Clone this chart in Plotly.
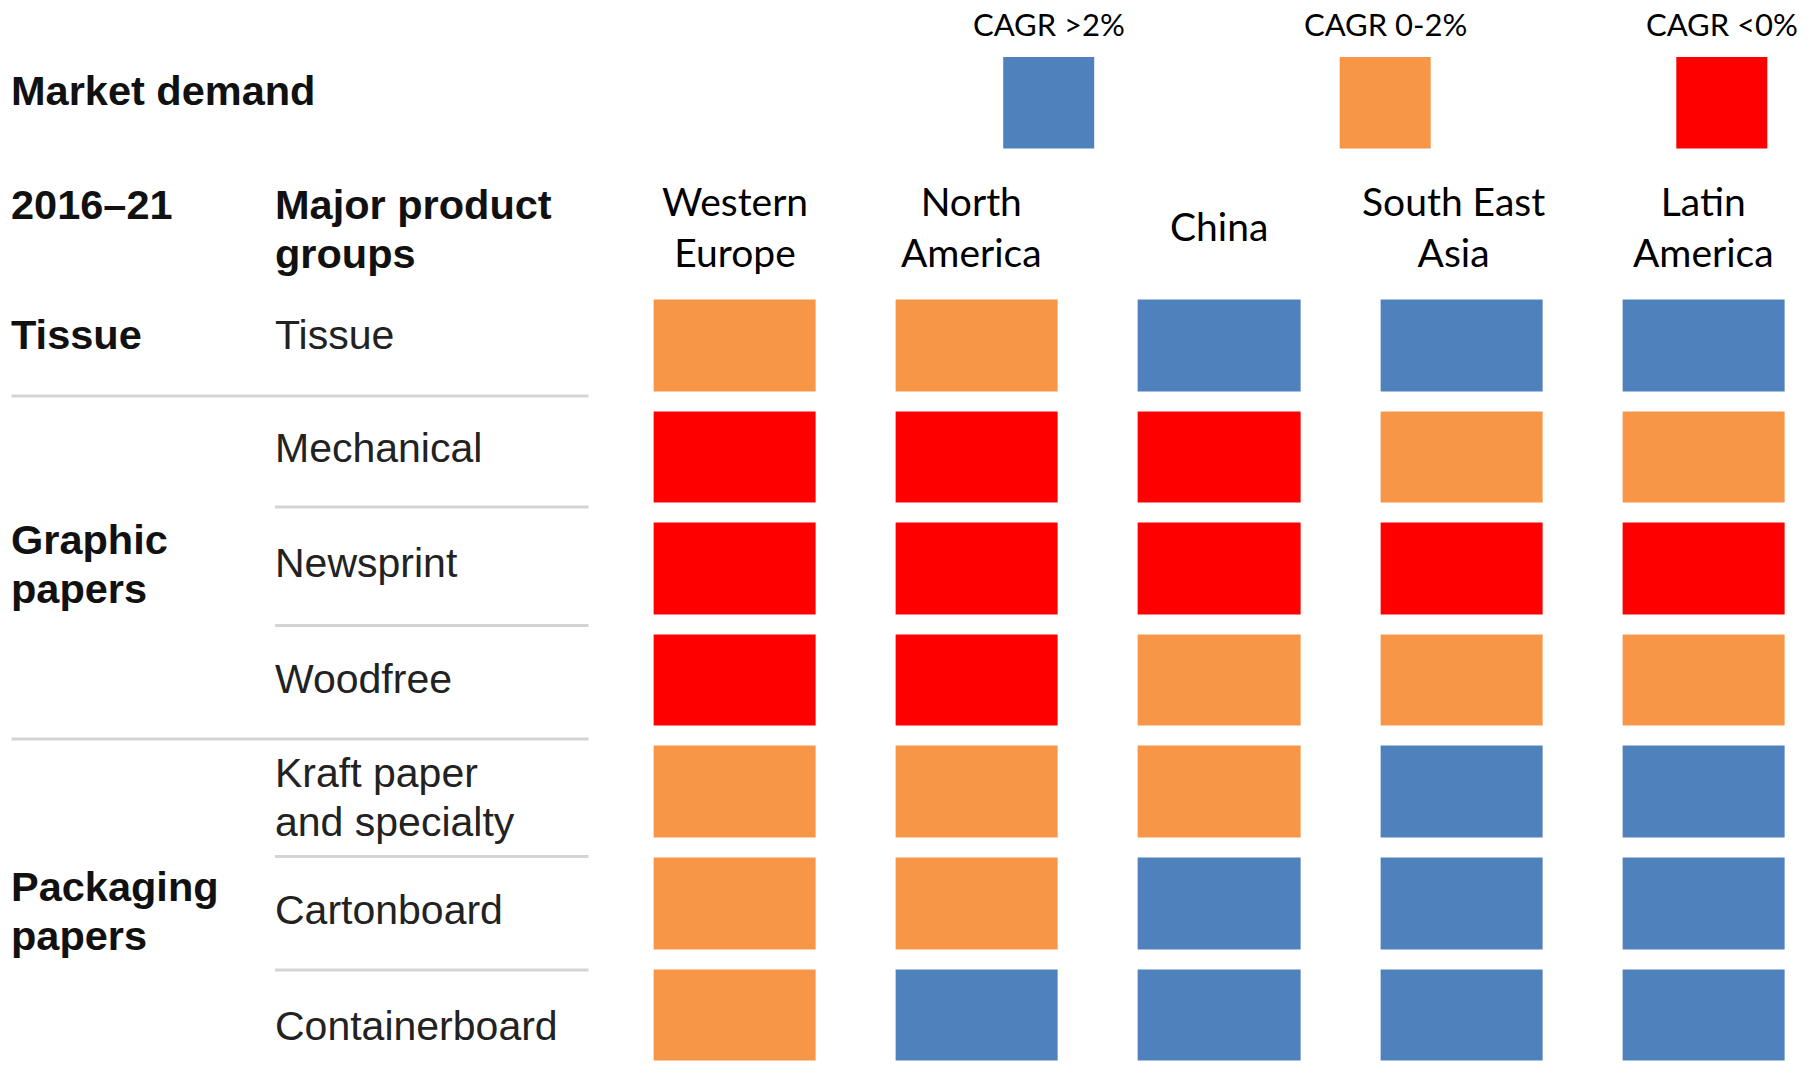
import plotly.graph_objects as go

# ---- data -------------------------------------------------------------
regions = ["Western<br>Europe", "North<br>America", "China", "South East<br>Asia", "Latin<br>America"]
products = ["Tissue", "Mechanical", "Newsprint", "Woodfree",
            "Kraft paper<br>and specialty", "Cartonboard", "Containerboard"]

# CAGR class per product (rows) and region (columns): 0 = >2%, 1 = 0-2%, 2 = <0%
tissue = [1, 1, 0, 0, 0]
mechanical = [2, 2, 2, 1, 1]
newsprint = [2, 2, 2, 2, 2]
woodfree = [2, 2, 1, 1, 1]
kraft = [1, 1, 1, 0, 0]
cartonboard = [1, 1, 0, 0, 0]
containerboard = [1, 0, 0, 0, 0]

class_labels = ["CAGR >2%", "CAGR 0-2%", "CAGR <0%"]
class_colors = ["#4F81BD", "#F79646", "#FF0000"]

groups = ["Tissue", "Graphic<br>papers", "Packaging<br>papers"]

# ---- page geometry (pixels) --------------------------------------------
W, H = 1820, 1075


def py(y):
    """Pixel row (from top) to paper fraction."""
    return (H - y) / H


def px(x):
    return x / W


z = [tissue, mechanical, newsprint, woodfree, kraft, cartonboard, containerboard]

colorscale = []
n = len(class_colors)
for i, c in enumerate(class_colors):
    colorscale.append([i / n, c])
    colorscale.append([(i + 1) / n, c])

fig = go.Figure(
    go.Heatmap(
        z=z,
        x=regions,
        y=products,
        zmin=-0.5,
        zmax=n - 0.5,
        colorscale=colorscale,
        showscale=False,
        xgap=80,
        ygap=20,
        hoverinfo="skip",
    )
)

# plot area: column pitch 242 px, row pitch 111.6 px
x0_pix = 613.6
col_pitch = 242.2
x_end = -0.5 + (W - x0_pix) / col_pitch
fig.update_xaxes(
    domain=[px(x0_pix), 1],
    range=[-0.5, x_end],
    side="top",
    showticklabels=False,
    showgrid=False,
    zeroline=False,
    fixedrange=True,
)
fig.update_yaxes(
    domain=[py(1070.8), py(289.5)],
    range=[len(products) - 0.5, -0.5],
    showticklabels=False,
    showgrid=False,
    zeroline=False,
    fixedrange=True,
)

annotations = []
header_font = dict(family="Lato, Carlito, sans-serif", size=39, color="#000000")
header_shift = [0, -5, 0, -8, 0]
for r, dx in zip(regions, header_shift):
    annotations.append(dict(
        x=r, xref="x", y=py(226), yref="paper", xshift=dx,
        text=r, showarrow=False, font=header_font,
        xanchor="center", yanchor="middle", align="center",
    ))

# ---- legend swatches --------------------------------------------------
legend_centers = [1048.7, 1385.2, 1721.8]
shapes = []
for cx, lab, col in zip(legend_centers, class_labels, class_colors):
    shapes.append(dict(
        type="rect", xref="paper", yref="paper",
        x0=px(cx - 45.5), x1=px(cx + 45.5), y0=py(148.6), y1=py(57),
        fillcolor=col, line=dict(width=0),
    ))
    annotations.append(dict(
        x=px(cx), xref="paper", y=py(24), yref="paper",
        text=lab, showarrow=False,
        font=dict(family="Lato, Carlito, sans-serif", size=31, color="#000000"),
        xanchor="center", yanchor="middle",
    ))

# ---- left-hand table ----------------------------------------------------
bold = dict(family="Liberation Sans, Arial, Helvetica, sans-serif", size=41.5, color="#111111")
regular = dict(family="Liberation Sans, Arial, Helvetica, sans-serif", size=41, color="#222222")
LINE = 49  # line spacing of wrapped labels, px


def label(text, x, y, font, bold_text=False):
    """Place a (possibly wrapped) label; y is the centre of the text block."""
    lines = text.split("<br>")
    top = y - LINE * (len(lines) - 1) / 2
    for k, line in enumerate(lines):
        annotations.append(dict(
            x=px(x), xref="paper", y=py(top + k * LINE), yref="paper",
            text="<b>" + line + "</b>" if bold_text else line,
            showarrow=False, font=font,
            xanchor="left", yanchor="middle", align="left",
        ))


label("Market demand", 9, 91, bold, True)
label("2016–21", 9, 205, bold, True)
label("Major product<br>groups", 273, 229.5, bold, True)

group_y = [335, 564, 911]
for g, gy in zip(groups, group_y):
    label(g, 9, gy, bold, True)

product_y = [335, 448, 563, 679, 797, 910, 1026]
for p, yy in zip(products, product_y):
    label(p, 273, yy, regular)

# separators: full width between groups, short within a group
separators = [(396, 11.6), (507, 275), (625.6, 275), (739, 11.6), (856.6, 275), (970, 275)]
for yy, xs in separators:
    shapes.append(dict(
        type="line", xref="paper", yref="paper",
        x0=px(xs), x1=px(588.5), y0=py(yy), y1=py(yy),
        line=dict(color="#D4D4D4", width=3),
    ))

fig.update_layout(
    width=W,
    height=H,
    margin=dict(l=0, r=0, t=0, b=0),
    paper_bgcolor="white",
    plot_bgcolor="white",
    annotations=annotations,
    shapes=shapes,
    showlegend=False,
)

fig.write_html("out.html")
